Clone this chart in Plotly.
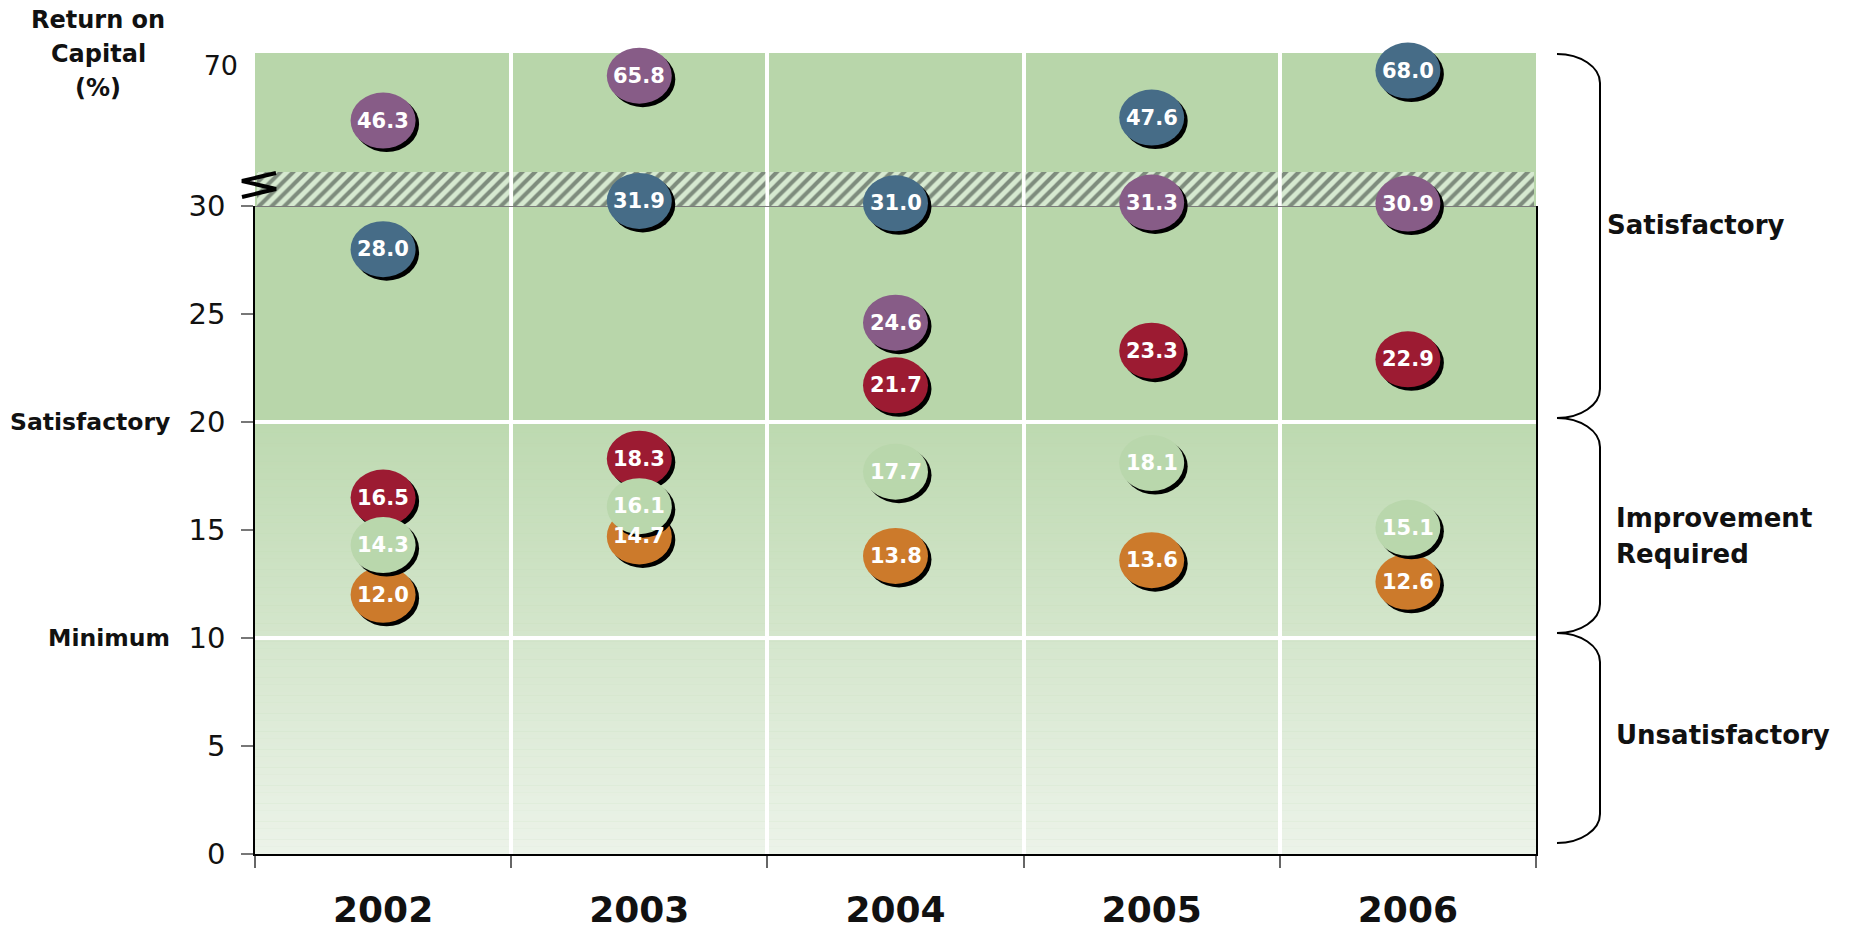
import plotly.graph_objects as go

# ---- data -------------------------------------------------------------
years = ["2002", "2003", "2004", "2005", "2006"]
series_purple = [46.3, 65.8, 24.6, 31.3, 30.9]
series_blue = [28.0, 31.9, 31.0, 47.6, 68.0]
series_orange = [12.0, 14.7, 13.8, 13.6, 12.6]
series_red = [16.5, 18.3, 21.7, 23.3, 22.9]
series_green = [14.3, 16.1, 17.7, 18.1, 15.1]

lower_ticks = [0, 5, 10, 15, 20, 25, 30]
upper_ticks = [70]
minimum_level = 10
satisfactory_level = 20

# ---- styling ----------------------------------------------------------
FONT = "DejaVu Sans"
COLORS = {
    "purple": "#875C87",
    "blue": "#466C87",
    "orange": "#CC7A2B",
    "red": "#9C1B32",
    "green": "#B9D7AC",
}
# draw order (last on top)
SERIES = [
    ("purple", series_purple),
    ("blue", series_blue),
    ("orange", series_orange),
    ("red", series_red),
    ("green", series_green),
]

W, H = 1849, 930
M_L, M_R, M_T, M_B = 255, 313, 53, 76
PW = W - M_L - M_R
PH = H - M_T - M_B

# broken y scale: lower panel 0-30, a compressed hatched band, an upper panel
LOW_RANGE = [0, 30]
LOW_PX_PER_UNIT = 21.6
BAND_PX = 34
BAND_RANGE = [30, 30 + BAND_PX / 2.69]
UPPER_PX_PER_UNIT = 2.3
UPPER_TOP_GAP = 13  # pixels from the top of the plot down to the 70 level
d_low = LOW_PX_PER_UNIT * (LOW_RANGE[1] - LOW_RANGE[0]) / PH
d_band = d_low + BAND_PX / PH
upper_px = PH * (1 - d_band)
UPPER_RANGE = [70 - (upper_px - UPPER_TOP_GAP) / UPPER_PX_PER_UNIT,
               70 + UPPER_TOP_GAP / UPPER_PX_PER_UNIT]

AXES = {
    "y": ([0, d_low], LOW_RANGE),
    "y2": ([d_low, d_band], BAND_RANGE),
    "y3": ([d_band, 1], UPPER_RANGE),
}


def axis_for(v):
    if v <= LOW_RANGE[1]:
        return "y"
    if v < 40:
        return "y2"
    return "y3"


def value_to_paper(v):
    """Position of a value on the broken y scale, as a fraction of the plot height."""
    (d0, d1), (r0, r1) = AXES[axis_for(v)]
    return d0 + (v - r0) / (r1 - r0) * (d1 - d0)


def paper(px, py):
    return (px - M_L) / PW, (M_T + PH - py) / PH


def lerp_color(c0, c1, t):
    a = [int(c0[i:i + 2], 16) for i in (1, 3, 5)]
    b = [int(c1[i:i + 2], 16) for i in (1, 3, 5)]
    return "rgb({},{},{})".format(*[round(a[k] + (b[k] - a[k]) * t) for k in range(3)])


fig = go.Figure()

# hatched break band
fig.add_trace(go.Bar(
    x=years, y=[BAND_RANGE[1] - BAND_RANGE[0]] * len(years), base=[BAND_RANGE[0]] * len(years),
    xaxis="x", yaxis="y2",
    marker=dict(color="#D6E9D0", line_width=0,
                pattern=dict(shape="/", fgcolor="#26302A", bgcolor="#D6E9D0",
                             size=9, solidity=0.45)),
    hoverinfo="skip", showlegend=False,
))

shapes = []
# vertical gradient in the lower part of the chart
N = 120
top_c, bot_c = "#BDD9B0", "#ECF3E9"
for k in range(N):
    y0 = satisfactory_level * k / N
    y1 = satisfactory_level * (k + 1) / N + 0.02
    shapes.append(dict(type="rect", layer="below", xref="x domain", x0=0, x1=1,
                       yref="y", y0=y0, y1=min(y1, satisfactory_level),
                       fillcolor=lerp_color(bot_c, top_c, (k + 0.5) / N), line_width=0))

# white threshold lines
for lvl in (minimum_level, satisfactory_level):
    shapes.append(dict(type="line", layer="below", xref="x domain", x0=0, x1=1,
                       yref="y", y0=lvl, y1=lvl, line=dict(color="white", width=4)))

# grey line along the bottom of the break band
shapes.append(dict(type="line", layer="above", xref="x domain", x0=0, x1=1,
                   yref="y", y0=LOW_RANGE[1], y1=LOW_RANGE[1],
                   line=dict(color="#7A7A7A", width=2)))

# bubbles: shadow + ellipse, anchored at each data point (x = category index);
# vertical anchor on the broken scale so bubbles may overhang the panel edges
EW, EH, SH = 65, 56, 3.5
annotations = []
for name, vals in SERIES:
    for i, v in enumerate(vals):
        yp = value_to_paper(v)
        shapes.append(dict(type="circle", layer="above", xref="x", yref="paper",
                           xsizemode="pixel", ysizemode="pixel", xanchor=i, yanchor=yp,
                           x0=-EW / 2 + SH, x1=EW / 2 + SH, y0=-EH / 2 - SH, y1=EH / 2 - SH,
                           fillcolor="black", line_width=0))
        shapes.append(dict(type="circle", layer="above", xref="x", yref="paper",
                           xsizemode="pixel", ysizemode="pixel", xanchor=i, yanchor=yp,
                           x0=-EW / 2, x1=EW / 2, y0=-EH / 2, y1=EH / 2,
                           fillcolor=COLORS[name], line_width=0))
for name, vals in SERIES:
    for i, v in enumerate(vals):
        annotations.append(dict(x=i, y=v, xref="x", yref=axis_for(v), text=f"{v:.1f}",
                                showarrow=False,
                                font=dict(family=FONT, size=21, color="white", weight="bold")))

# axis-break marker at the left edge of the band
pts = [(276, 173), (242, 181), (276, 189), (242, 197)]
path = "M " + " L ".join("{:.5f},{:.5f}".format(*paper(x, y)) for x, y in pts)
shapes.append(dict(type="path", layer="above", xref="paper", yref="paper", path=path,
                   line=dict(color="black", width=4)))

# right-hand brackets for the rating zones
XL, XR, RX, RY = 1557, 1600, 43, 29


def bracket(yt, yb):
    p = [(XL, yt), (XL + 0.55 * RX, yt), (XR, yt + 0.45 * RY), (XR, yt + RY),
         (XR, yb - RY), (XR, yb - 0.45 * RY), (XL + 0.55 * RX, yb), (XL, yb)]
    q = ["{:.5f},{:.5f}".format(*paper(x, y)) for x, y in p]
    return f"M {q[0]} C {q[1]} {q[2]} {q[3]} L {q[4]} C {q[5]} {q[6]} {q[7]}"


for yt, yb in [(54, 418), (418, 633), (633, 843)]:
    shapes.append(dict(type="path", layer="above", xref="paper", yref="paper",
                       path=bracket(yt, yb), line=dict(color="black", width=2)))


def text_note(text, px, py, size, xanchor, bold=True):
    x, y = paper(px, py)
    return dict(x=x, y=y, xref="paper", yref="paper", text=text, xanchor=xanchor,
                yanchor="middle", showarrow=False,
                font=dict(family=FONT, size=size, color="#111111",
                          weight="bold" if bold else "normal"))


# zone labels on the right
annotations.append(text_note("Satisfactory", 1605, 225, 26, "left"))
annotations.append(text_note("Improvement", 1614, 518, 26, "left"))
annotations.append(text_note("Required", 1614, 554, 26, "left"))
annotations.append(text_note("Unsatisfactory", 1614, 735, 26, "left"))

# threshold names beside the y axis
side_font = dict(family=FONT, size=23.5, color="#111111", weight="bold")
for text, lvl in [("Satisfactory", satisfactory_level), ("Minimum", minimum_level)]:
    annotations.append(dict(x=paper(172, 0)[0], y=lvl, xref="paper", yref="y", text=text,
                            xanchor="right", yanchor="middle", showarrow=False, font=side_font))

# axis title, one line per annotation
for text, py in [("Return on", 20), ("Capital", 54), ("(%)", 88)]:
    annotations.append(text_note(text, 98, py, 24, "center"))

fig.update_layout(
    width=W, height=H,
    margin=dict(l=M_L, r=M_R, t=M_T, b=M_B, autoexpand=False),
    paper_bgcolor="white", plot_bgcolor="#B8D6AA",
    showlegend=False, bargap=4 / 256,
    font=dict(family=FONT, color="#111111"),
    xaxis=dict(type="category", categoryorder="array", categoryarray=years,
               range=[-0.5, len(years) - 0.5], anchor="y", automargin=False,
               showline=True, linecolor="black", linewidth=2,
               ticks="outside", tickson="boundaries", ticklen=12, tickwidth=1.5,
               tickcolor="#666666", showgrid=True, gridcolor="white", gridwidth=4,
               tickfont=dict(family=FONT, size=36, color="#111111", weight="bold"),
               ticklabelstandoff=23, zeroline=False),
    yaxis=dict(domain=[0, d_low], range=LOW_RANGE, anchor="x", automargin=False,
               tickvals=lower_ticks, ticks="outside", ticklen=12, tickwidth=2,
               tickcolor="#777777", showline=True, linecolor="black", linewidth=1.5,
               mirror=True, showgrid=False, zeroline=False,
               tickfont=dict(family=FONT, size=29, color="#111111"),
               ticklabelstandoff=10),
    yaxis2=dict(domain=[d_low, d_band], range=BAND_RANGE, anchor="x", automargin=False,
                showticklabels=False, showgrid=False, zeroline=False, showline=False),
    yaxis3=dict(domain=[d_band, 1], range=UPPER_RANGE, anchor="x", automargin=False,
                tickvals=upper_ticks, ticks="", showline=False, showgrid=False,
                zeroline=False, tickfont=dict(family=FONT, size=27, color="#111111"),
                ticklabelstandoff=16),
    shapes=shapes, annotations=annotations,
)

fig.write_html("out.html")
